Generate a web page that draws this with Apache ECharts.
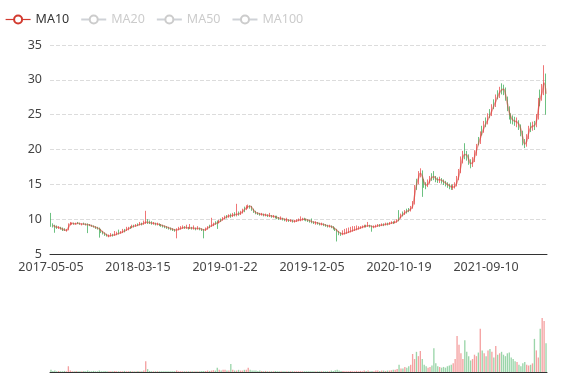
<!DOCTYPE html>
<html>
<head>
<meta charset="utf-8">
<script src="https://cdn.jsdelivr.net/npm/echarts@6/dist/echarts.min.js"></script>
<style>html,body{margin:0;padding:0;background:#fff}#main{width:577px;height:380px}</style>
</head>
<body>
<div id="main"></div>
<script>
// Weekly sampled trading dates (one point per trading week)
const dates = [
'2017-05-05','2017-05-12','2017-05-19','2017-05-26','2017-06-02','2017-06-09','2017-06-16','2017-06-23','2017-06-30','2017-07-07','2017-07-14','2017-07-21','2017-07-28','2017-08-04','2017-08-11','2017-08-18','2017-08-25','2017-09-01','2017-09-08','2017-09-15','2017-09-22','2017-09-29','2017-10-06','2017-10-13','2017-10-20','2017-10-27','2017-11-03','2017-11-10','2017-11-17','2017-11-24','2017-12-01','2017-12-08','2017-12-15','2017-12-22','2017-12-29','2018-01-05','2018-01-12','2018-01-19','2018-01-26','2018-02-02','2018-02-09','2018-02-16','2018-02-23','2018-03-02','2018-03-09',
'2018-03-15','2018-03-22','2018-03-29','2018-04-05','2018-04-12','2018-04-19','2018-04-26','2018-05-03','2018-05-10','2018-05-17','2018-05-24','2018-05-31','2018-06-07','2018-06-14','2018-06-21','2018-06-28','2018-07-05','2018-07-12','2018-07-19','2018-07-26','2018-08-02','2018-08-09','2018-08-16','2018-08-23','2018-08-30','2018-09-06','2018-09-13','2018-09-20','2018-09-27','2018-10-04','2018-10-11','2018-10-18','2018-10-25','2018-11-01','2018-11-08','2018-11-15','2018-11-22','2018-11-29','2018-12-06','2018-12-13','2018-12-20','2018-12-27','2019-01-03','2019-01-10','2019-01-17',
'2019-01-22','2019-01-29','2019-02-05','2019-02-12','2019-02-19','2019-02-26','2019-03-05','2019-03-12','2019-03-19','2019-03-26','2019-04-02','2019-04-09','2019-04-16','2019-04-23','2019-04-30','2019-05-07','2019-05-14','2019-05-21','2019-05-28','2019-06-04','2019-06-11','2019-06-18','2019-06-25','2019-07-02','2019-07-09','2019-07-16','2019-07-23','2019-07-30','2019-08-06','2019-08-13','2019-08-20','2019-08-27','2019-09-03','2019-09-10','2019-09-17','2019-09-24','2019-10-01','2019-10-08','2019-10-15','2019-10-22','2019-10-29','2019-11-05','2019-11-12','2019-11-19','2019-11-26',
'2019-12-05','2019-12-12','2019-12-19','2019-12-26','2020-01-02','2020-01-09','2020-01-16','2020-01-23','2020-01-30','2020-02-06','2020-02-13','2020-02-20','2020-02-27','2020-03-05','2020-03-12','2020-03-19','2020-03-26','2020-04-02','2020-04-09','2020-04-16','2020-04-23','2020-04-30','2020-05-07','2020-05-14','2020-05-21','2020-05-28','2020-06-04','2020-06-11','2020-06-18','2020-06-25','2020-07-02','2020-07-09','2020-07-16','2020-07-23','2020-07-30','2020-08-06','2020-08-13','2020-08-20','2020-08-27','2020-09-03','2020-09-10','2020-09-17','2020-09-24','2020-10-01','2020-10-08',
'2020-10-19','2020-10-26','2020-11-02','2020-11-09','2020-11-16','2020-11-23','2020-11-30','2020-12-07','2020-12-14','2020-12-21','2020-12-28','2021-01-04','2021-01-11','2021-01-18','2021-01-25','2021-02-01','2021-02-08','2021-02-15','2021-02-22','2021-03-01','2021-03-08','2021-03-15','2021-03-22','2021-03-29','2021-04-05','2021-04-12','2021-04-19','2021-04-26','2021-05-03','2021-05-10','2021-05-17','2021-05-24','2021-05-31','2021-06-07','2021-06-14','2021-06-21','2021-06-28','2021-07-05','2021-07-12','2021-07-19','2021-07-26','2021-08-02','2021-08-09','2021-08-16','2021-08-23',
'2021-09-10','2021-09-17','2021-09-24','2021-10-01','2021-10-08','2021-10-15','2021-10-22','2021-10-29','2021-11-05','2021-11-12','2021-11-19','2021-11-26','2021-12-03','2021-12-10','2021-12-17','2021-12-24','2021-12-31','2022-01-07','2022-01-14','2022-01-21','2022-01-28','2022-02-04','2022-02-11','2022-02-18','2022-02-25','2022-03-04','2022-03-11','2022-03-18','2022-03-25','2022-04-01','2022-04-08','2022-04-15'
];

// [open, close, low, high]
const candles = [
[9.5,9.2,8.9,10.9],[9.2,9.0,8.8,9.4],[9.0,8.9,8.05,9.2],[8.9,8.8,8.6,9.1],[8.7,8.8,8.6,9.0],[8.8,8.6,8.5,8.9],[8.6,8.5,8.3,8.8],[8.5,8.4,8.3,8.7],[8.3,8.4,8.2,8.6],[8.4,9.2,8.4,9.4],
[9.2,9.4,9.1,9.6],[9.3,9.4,9.2,9.5],[9.4,9.3,9.2,9.5],[9.3,9.4,9.2,9.5],[9.5,9.4,9.3,9.6],[9.4,9.3,9.2,9.5],[9.2,9.3,9.1,9.4],[9.4,9.3,9.2,9.5],[9.3,9.2,9.1,9.4],[9.3,9.2,8.0,9.4],
[9.2,9.1,9.0,9.3],[9.1,9.0,8.9,9.2],[9.0,8.9,8.8,9.1],[8.9,8.8,8.6,9.0],[8.8,8.7,8.5,8.9],[8.7,8.5,7.35,8.8],[8.5,8.2,8.0,8.6],[8.2,8.0,7.8,8.3],[8.0,7.8,7.6,8.1],[7.8,7.6,7.5,7.9],
[7.5,7.6,7.4,7.8],[7.6,7.7,7.5,8.0],[7.8,7.7,7.5,7.9],[7.7,7.8,7.6,8.3],[7.8,7.9,7.7,8.2],[8.1,8.0,7.8,8.5],[8.0,8.1,7.9,8.3],[8.1,8.2,8.0,8.6],[8.5,8.4,8.1,8.6],[8.4,8.5,8.3,8.9],
[8.5,8.7,8.4,8.9],[8.9,8.8,8.6,9.0],[8.8,9.0,8.7,9.2],[9.1,9.0,8.8,9.2],[9.0,9.1,8.9,9.3],[9.3,9.2,9.0,9.4],[9.2,9.3,9.1,9.6],[9.4,9.3,9.1,9.5],[9.3,9.5,9.2,9.8],[9.5,9.6,9.3,11.2],
[9.7,9.5,9.3,10.0],[9.6,9.5,9.3,9.8],[9.5,9.4,9.2,9.7],[9.3,9.4,9.2,9.6],[9.4,9.3,9.1,9.5],[9.2,9.3,9.1,9.5],[9.3,9.2,9.0,9.4],[9.2,9.1,8.9,9.3],[9.1,9.0,8.8,9.2],[9.0,8.9,8.7,9.1],
[8.9,8.8,8.6,9.0],[8.8,8.7,8.5,8.9],[8.7,8.6,8.4,8.8],[8.6,8.5,8.3,8.7],[8.5,8.4,8.2,8.6],[8.4,8.5,7.25,8.7],[8.5,8.6,8.4,8.9],[8.6,8.7,8.5,9.0],[8.7,8.8,8.6,9.1],[8.9,8.8,8.6,9.0],
[8.7,8.8,8.6,9.2],[8.8,8.7,8.5,8.9],[8.7,8.8,8.6,9.3],[8.8,8.7,8.5,8.9],[8.6,8.7,8.5,9.1],[8.7,8.6,8.4,8.8],[8.6,8.7,8.5,9.0],[8.7,8.6,8.4,8.8],[8.6,8.5,8.3,8.7],[8.5,8.4,7.25,8.6],
[8.4,8.6,8.3,8.8],[8.6,8.8,8.5,9.0],[9.1,9.0,8.7,9.2],[9.0,9.1,8.9,10.2],[9.1,9.3,9.0,9.5],[9.5,9.4,9.2,9.7],[9.6,9.5,8.6,9.8],[9.5,9.7,9.4,9.9],[10.0,9.9,9.6,10.1],[9.9,10.1,9.8,10.3],
[10.1,10.3,10.0,10.5],[10.5,10.4,10.1,10.6],[10.4,10.5,10.2,10.7],[10.6,10.5,10.2,10.8],[10.5,10.6,10.3,10.9],[10.8,10.7,10.4,11.0],[10.6,10.7,10.4,12.2],[10.9,10.8,10.5,11.1],[10.8,10.9,10.6,11.2],[10.9,11.2,10.8,11.5],
[11.7,11.5,11.0,11.8],[11.5,11.7,11.3,12.0],[11.7,11.9,11.5,12.1],[11.9,11.8,11.5,12.0],[11.8,11.4,11.2,11.9],[11.4,11.0,10.9,11.5],[11.0,10.9,10.7,11.2],[10.9,10.8,10.6,11.0],[10.8,10.7,10.5,10.9],[10.6,10.7,10.5,10.9],
[10.7,10.6,10.4,10.8],[10.5,10.6,10.4,10.8],[10.6,10.5,10.3,10.7],[10.4,10.5,10.3,10.9],[10.5,10.4,10.2,10.6],[10.3,10.4,10.2,10.6],[10.4,10.3,10.1,10.5],[10.3,10.2,10.0,10.5],[10.2,10.1,9.9,10.3],[10.0,10.1,9.9,10.4],
[10.1,10.0,9.8,10.2],[10.0,9.9,9.7,10.1],[9.8,9.9,9.6,10.2],[9.9,9.8,9.6,10.0],[9.7,9.8,9.6,10.0],[9.8,9.7,9.5,9.9],[9.6,9.7,9.5,9.9],[9.7,9.8,9.6,10.0],[9.8,9.9,9.7,10.1],[9.8,9.9,9.7,10.4],
[9.9,10.0,9.8,10.2],[10.1,10.0,9.8,10.2],[10.0,9.9,9.7,10.1],[9.9,9.8,9.6,10.0],[9.8,9.7,9.5,9.9],[9.7,9.6,9.4,10.1],[9.6,9.5,9.3,9.7],[9.4,9.5,9.2,9.7],[9.5,9.4,9.2,9.6],[9.4,9.3,9.1,9.5],
[9.2,9.3,9.1,9.5],[9.3,9.2,9.0,9.4],[9.2,9.1,8.9,9.3],[9.1,9.0,8.8,9.2],[8.9,9.0,8.8,9.2],[9.0,8.9,8.7,9.1],[8.9,8.7,8.5,9.0],[8.7,8.5,8.3,8.8],[8.5,8.2,6.8,8.6],[8.2,8.0,7.7,8.3],
[8.0,7.9,7.6,8.1],[7.8,7.9,7.7,8.4],[7.9,8.0,7.8,8.6],[8.0,8.1,7.9,8.7],[8.1,8.2,8.0,8.8],[8.2,8.3,8.1,8.9],[8.3,8.4,8.2,9.0],[8.4,8.5,8.3,9.0],[8.5,8.6,8.4,9.1],[8.6,8.7,8.5,9.0],
[8.7,8.8,8.6,9.0],[8.8,8.9,8.7,9.1],[8.9,9.0,8.8,9.2],[9.1,9.0,8.8,9.2],[9.0,9.1,8.9,9.6],[9.1,9.0,8.8,9.2],[9.0,8.9,8.2,9.1],[8.8,8.9,8.7,9.1],[8.9,9.0,8.8,9.2],[9.0,9.1,8.9,9.3],
[9.2,9.1,8.9,9.3],[9.1,9.2,9.0,9.4],[9.3,9.2,9.0,9.4],[9.2,9.3,9.1,9.5],[9.4,9.3,9.1,9.5],[9.3,9.4,9.2,9.6],[9.4,9.5,9.3,9.7],[9.6,9.5,9.3,9.7],[9.5,9.6,9.4,9.8],[9.6,9.8,9.5,10.0],
[10.4,10.2,9.7,11.3],[10.2,10.5,10.1,10.8],[10.9,10.8,10.4,11.1],[10.8,11.0,10.6,11.3],[11.3,11.2,10.8,11.5],[11.4,11.3,11.0,11.6],[11.3,11.6,11.1,11.9],[11.6,12.2,11.5,12.6],[12.2,14.5,12.1,14.9],[15.5,15.3,14.2,15.8],
[15.3,16.4,15.0,16.9],[16.4,16.8,16.0,17.3],[16.8,15.5,13.2,17.0],[15.5,15.0,14.5,15.8],[15.0,14.8,14.3,15.3],[14.8,15.3,14.6,15.7],[15.3,15.8,15.1,16.2],[16.4,16.2,15.5,16.6],[16.2,16.0,15.6,16.9],[16.0,15.7,15.3,16.2],
[15.7,15.6,15.2,16.0],[15.5,15.7,15.2,16.1],[15.7,15.5,15.1,15.9],[15.5,15.3,14.9,15.7],[15.3,15.1,14.7,15.5],[15.1,14.9,14.5,15.3],[14.9,14.7,14.3,15.1],[14.7,14.6,14.2,15.0],[14.5,14.6,14.2,15.0],[14.6,14.9,14.4,15.3],
[14.9,15.8,14.7,16.2],[15.8,16.8,15.6,17.2],[16.8,18.5,16.6,19.0],[18.5,19.2,18.0,19.8],[19.6,19.4,18.6,20.9],[19.4,19.0,18.4,19.8],[19.0,18.2,17.8,19.3],[18.2,17.8,17.3,18.6],[17.8,18.4,17.5,18.9],[18.4,19.4,18.2,19.9],
[19.4,20.3,19.1,20.8],[21.4,21.2,20.6,21.8],[21.2,22.0,20.8,22.6],[23.0,22.8,22.0,23.4],[22.8,23.5,22.4,24.1],[24.2,24.0,23.2,24.6],[24.0,24.6,23.6,25.2],[25.4,25.2,24.5,25.8],[25.2,25.9,24.8,26.5],[26.8,26.6,25.8,27.2],
[26.6,27.2,26.1,27.9],[28.1,27.9,27.2,28.5],[27.9,28.4,27.4,29.0],[28.9,28.7,27.9,29.5],[28.7,28.6,27.8,29.3],[28.6,27.3,27.0,28.9],[27.3,25.9,25.5,27.6],[25.9,24.8,24.3,26.2],[24.8,24.3,23.7,25.2],[24.2,24.1,23.6,24.9],
[24.1,24.0,23.4,24.7],[23.8,23.9,23.2,24.6],[23.9,23.3,22.8,24.2],[23.3,22.4,21.9,23.6],[22.4,21.0,20.6,22.7],[21.0,20.6,20.2,21.5],[20.6,21.8,20.4,22.2],[21.8,22.9,21.5,23.4],[23.5,23.3,22.5,23.9],[23.3,23.4,22.7,24.0],
[23.7,23.5,22.8,24.1],[23.5,24.6,23.2,25.1],[24.6,26.8,24.3,27.4],[28.0,27.8,26.2,28.6],[27.8,28.6,27.0,29.4],[28.6,30.5,27.8,32.1],[30.5,25.5,25.0,30.9]
];

// Volume per point (relative units)
const volumes = [
3,1.5,2,1,1.5,1,1,1.5,1,8,
2,1,1,1.5,1,1,1,1.5,1,2,
1,1,1.5,1,1,2,1,1,1.5,1,
1,1,1,1.5,1,1,1,1,1.5,1,
1,1.5,1,1,1,1.5,1,1,2,15,
4,1.5,1,1,1,1,1,1,1,1,
1,1,1,1,1,2,1,1,1,1,
1,1,1,1,1,1,1,1,1.5,1.5,
1.5,2,1.5,2,2.5,2,6,3,2,3,
3,2,2,11,3,2,2,3,2,2,
3,3,6,3,2,2,2,1.5,2,1.5,
1,1.5,1,1,1,1,1.5,1,1,1,
1,1,1,1,1,1,1,1,1,1,
1,1,1,1,1,1,1,1,1,1,
1,1,1,1,1,2,1.5,2.5,3,2,
1.5,1.5,1,1,1,1.5,1,1,1.5,1,
1.5,1,2,1.5,2,1,1.5,1,2,2,
1.5,2,2,1.5,2,2,2.5,3,3,4,
10,5,5,7,6,8,10,25,18,28,
22,29,18,10,8,6,7,9,33,12,
8,7,6,7,6,8,9,10,12,18,
50,38,26,18,44,28,22,16,18,24,
22,27,60,30,26,22,30,32,28,20,
36,24,26,28,24,22,26,27,20,18,
15,14,10,8,12,14,10,9,10,12,
46,30,20,60,75,71,40
];

const maNames = ['MA10', 'MA20', 'MA50', 'MA100'];
const maDays = [10, 20, 50, 100];
const tradingDaysPerPoint = 5;

const UP = '#eb5454', DOWN = '#47b262';
const maColors = ['#d23a2f', '#8fb3c9', '#8d9c5e', '#c7a36b'];

function movingAverage(days) {
  const n = Math.max(1, Math.round(days / tradingDaysPerPoint));
  const out = [];
  for (let i = 0; i < candles.length; i++) {
    if (i < n - 1) { out.push('-'); continue; }
    let s = 0;
    for (let j = 0; j < n; j++) s += candles[i - j][1];
    out.push(+(s / n).toFixed(3));
  }
  return out;
}

const volData = volumes.map((v, i) => ({
  value: v,
  itemStyle: { color: candles[i][1] >= candles[i][0] ? UP : DOWN, opacity: 0.55 }
}));

const chart = echarts.init(document.getElementById('main'), null, { renderer: 'canvas' });
const FONT = 'Noto Sans';
const FS = 12.5;
const option = {
  animation: false,
  textStyle: { fontFamily: FONT },
  legend: {
    left: 0, top: 8,
    itemGap: 11, itemWidth: 25, itemHeight: 10,
    data: maNames,
    selected: { MA20: false, MA50: false, MA100: false },
    textStyle: { color: '#333', fontSize: FS, fontFamily: FONT },
    itemStyle: { borderWidth: 1.2 },
    lineStyle: { width: 1.2, opacity: 1 },
    inactiveColor: '#ccc'
  },
  grid: [
    { left: 50, right: 30, top: 45, height: 209, outerBoundsMode: 'none' },
    { left: 50, right: 30, top: 300, height: 72, outerBoundsMode: 'none' }
  ],
  xAxis: [
    {
      type: 'category', data: dates, boundaryGap: true, gridIndex: 0,
      axisLine: { lineStyle: { color: '#333' } },
      axisTick: { interval: 44, length: 5, lineStyle: { color: '#333' } },
      axisLabel: { interval: 44, color: '#444', fontSize: FS, fontFamily: FONT, margin: 7 },
      splitLine: { show: false }
    },
    {
      type: 'category', data: dates, boundaryGap: true, gridIndex: 1,
      axisLine: { lineStyle: { color: '#333' } },
      axisTick: { show: false }, axisLabel: { show: false }, splitLine: { show: false }
    }
  ],
  yAxis: [
    {
      type: 'value', gridIndex: 0, min: 5, max: 35, interval: 5,
      axisLine: { show: false }, axisTick: { show: false },
      axisLabel: { color: '#444', fontSize: FS, fontFamily: FONT, margin: 8 },
      splitLine: { lineStyle: { type: 'dashed', color: '#dcdcdc' } }
    },
    {
      type: 'value', gridIndex: 1, min: 0, max: 100, show: false,
      splitLine: { show: false }
    }
  ],
  series: [
    {
      name: 'K', type: 'candlestick', data: candles,
      xAxisIndex: 0, yAxisIndex: 0,
      itemStyle: { color: UP, color0: DOWN, borderColor: UP, borderColor0: DOWN, opacity: 0.8, borderWidth: 1 }
    },
    ...maNames.map((name, k) => ({
      name, type: 'line', data: movingAverage(maDays[k]),
      xAxisIndex: 0, yAxisIndex: 0,
      smooth: true, showSymbol: false, symbol: 'emptyCircle',
      color: maColors[k],
      lineStyle: { width: 1.5, opacity: 0.5 }
    })),
    {
      name: 'Volume', type: 'bar', data: volData,
      xAxisIndex: 1, yAxisIndex: 1
    }
  ]
};
chart.setOption(option);
</script>
</body>
</html>
